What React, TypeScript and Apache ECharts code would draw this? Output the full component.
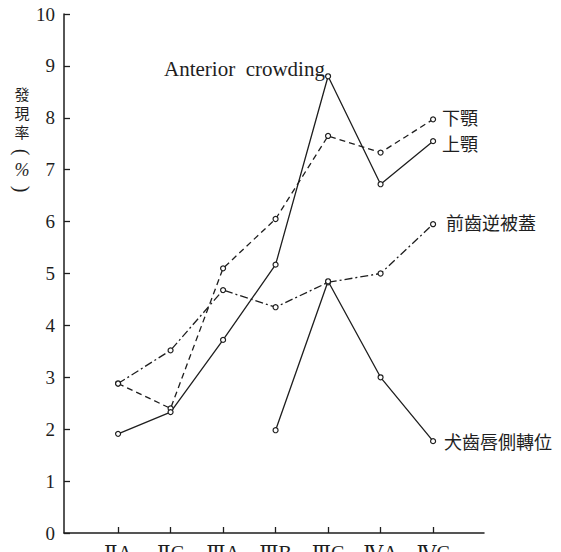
import React, { useEffect, useRef } from "react";
import * as echarts from "echarts";

const categories = ["ⅡA", "ⅡC", "ⅢA", "ⅢB", "ⅢC", "ⅣA", "ⅣC"];
const upperJaw = [1.91, 2.33, 3.72, 5.17, 8.8, 6.72, 7.55]; // 上顎 Anterior crowding
const lowerJaw = [2.88, 2.4, 5.1, 6.05, 7.65, 7.33, 7.97]; // 下顎 Anterior crowding
const crossbite = [2.88, 3.52, 4.68, 4.35, 4.83, 5.0, 5.95]; // 前齒逆被蓋
const canineStart = 3;
const canine = [1.98, 4.85, 3.0, 1.77]; // 犬齒唇側轉位 (from ⅢB)
const yTicks = [0, 1, 2, 3, 4, 5, 6, 7, 8, 9, 10];
const yTitleChars = ["發", "現", "率"];

const serif = "'Liberation Serif', 'DejaVu Serif', serif";
const cjk = "'Noto Sans CJK JP', 'Noto Sans CJK TC', sans-serif";
const ink = "#1e1e1e";

function toPairs(vals: number[], start = 0) {
  return vals.map((v, i) => [start + i, v]);
}

export default function App() {
  const ref = useRef<HTMLDivElement>(null);
  useEffect(() => {
    if (!ref.current) return;
    const chart = echarts.init(ref.current, null, { renderer: "svg" });
    const mkSeries = (name: string, data: number[][], dash: any, labelDy: number, dist: number) => ({
      name,
      type: "line",
      data,
      symbol: "circle",
      symbolSize: 5,
      showSymbol: true,
      itemStyle: { color: "#fff", borderColor: ink, borderWidth: 1.2 },
      lineStyle: { color: ink, width: 1.3, type: dash },
      endLabel: {
        show: true,
        formatter: name,
        fontFamily: cjk,
        fontSize: 18,
        color: ink,
        distance: dist,
        offset: [0, labelDy],
      },
      emphasis: { disabled: true },
    });
    const titleGraphics: any[] = yTitleChars.map((c, i) => ({
      type: "text",
      x: 22,
      y: 93 + i * 19,
      style: { text: c, fontFamily: cjk, fontSize: 15, fill: ink, align: "center", verticalAlign: "middle" },
    }));
    titleGraphics.push(
      {
        type: "text",
        x: 22,
        y: 152,
        rotation: -Math.PI / 2,
        style: { text: "(", fontFamily: serif, fontSize: 20, fill: ink, align: "center", verticalAlign: "middle" },
      },
      {
        type: "text",
        x: 22,
        y: 170,
        style: { text: "%", fontFamily: serif, fontSize: 18, fill: ink, align: "center", verticalAlign: "middle", fontStyle: "italic" },
      },
      {
        type: "text",
        x: 22,
        y: 189,
        rotation: -Math.PI / 2,
        style: { text: ")", fontFamily: serif, fontSize: 20, fill: ink, align: "center", verticalAlign: "middle" },
      }
    );
    chart.setOption({
      animation: false,
      backgroundColor: "#fff",
      grid: { left: 64, right: 77, top: 14, bottom: 19, outerBoundsMode: "none" },
      title: {
        text: "Anterior  crowding",
        left: 159,
        top: 53,
        textStyle: { fontFamily: serif, fontSize: 21, fontWeight: "normal", color: ink },
      },
      graphic: titleGraphics,
      xAxis: {
        type: "value",
        min: -1.03,
        max: 6.97,
        splitLine: { show: false },
        axisLine: { show: true, onZero: false, lineStyle: { color: ink, width: 1.5 } },
        axisTick: {
          show: true,
          inside: true,
          length: 6,
          customValues: categories.map((_, i) => i),
          lineStyle: { color: ink, width: 1.3 },
        },
        axisLabel: {
          customValues: categories.map((_, i) => i),
          formatter: (v: number) => categories[Math.round(v)] ?? "",
          fontFamily: serif,
          fontSize: 20,
          color: ink,
          margin: 10,
        },
      },
      yAxis: {
        type: "value",
        min: 0,
        max: 10,
        interval: 1,
        splitLine: { show: false },
        axisLine: { show: true, onZero: false, lineStyle: { color: ink, width: 1.5 } },
        axisTick: { show: true, inside: true, length: 6, lineStyle: { color: ink, width: 1.3 } },
        axisLabel: {
          fontFamily: serif,
          fontSize: 19,
          color: ink,
          margin: 9,
          formatter: (v: number) => (yTicks.includes(v) ? String(v) : ""),
        },
      },
      series: [
        mkSeries("下顎", toPairs(lowerJaw), [6, 4], -2, 9),
        mkSeries("上顎", toPairs(upperJaw), "solid", 2, 9),
        mkSeries("前齒逆被蓋", toPairs(crossbite), [8, 3, 2, 3], -2, 13),
        mkSeries("犬齒唇側轉位", toPairs(canine, canineStart), "solid", 0, 11),
      ],
    });
    return () => chart.dispose();
  }, []);
  return <div ref={ref} style={{ width: 561, height: 552, position: "absolute", left: 0, top: 0 }} />;
}
